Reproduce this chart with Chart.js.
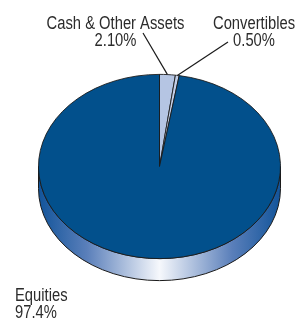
<!DOCTYPE html>
<html>
<head>
<meta charset="utf-8">
<script src="https://cdn.jsdelivr.net/npm/chart.js@4.4.0/dist/chart.umd.min.js"></script>
<style>
html, body { margin: 0; padding: 0; background: #fff; }
#wrap { width: 297px; height: 319px; position: relative; }
</style>
</head>
<body>
<div id="wrap"><canvas id="pie"></canvas></div>
<script>
// slice data, clockwise from 12 o'clock
const labels = ['Cash & Other Assets', 'Convertibles', 'Equities'];
const values = [2.10, 0.50, 97.4];
const valueLabels = ['2.10%', '0.50%', '97.4%'];
const sliceColors = ['#b5c5e3', '#c3cfe8', '#02508c'];

// tilt of the pie
const FLAT = 92.5 / 121.5;
const DEPTH = 22;
const TOP_Y = 166.5;
const FONT = '18px "Liberation Sans", Arial, sans-serif';
const NARROW = 0.82; // no condensed face installed, squeeze text horizontally

// label placement: text lines anchor + leader line start
const labelLayout = [
    { x: 115.5, y: 29, align: 'center', lineFrom: [143, 33] },
    { x: 254, y: 29, align: 'center', lineFrom: [228, 42] },
    { x: 15, y: 301, align: 'left', lineFrom: null }
];

function pieGeom(chart) {
    const arc = chart.getDatasetMeta(0).data[0];
    return { cx: arc.x, cy: arc.y, r: arc.outerRadius };
}

function narrowText(ctx, text, x, y) {
    ctx.save();
    ctx.translate(x, y);
    ctx.scale(NARROW, 1);
    ctx.fillText(text, 0, 0);
    ctx.restore();
}

const tiltPlugin = {
    id: 'tilt',
    beforeDatasetsDraw(chart) {
        const ctx = chart.ctx;
        const { cx, cy, r } = pieGeom(chart);
        const ry = r * FLAT;

        // side of the disc
        const g = ctx.createLinearGradient(cx - r, 0, cx + r, 0);
        g.addColorStop(0, '#12549a');
        g.addColorStop(0.2, '#5a7fba');
        g.addColorStop(0.5, '#f6f8fc');
        g.addColorStop(0.8, '#5a7fba');
        g.addColorStop(1, '#12549a');
        ctx.save();
        ctx.beginPath();
        ctx.ellipse(cx, TOP_Y, r, ry, 0, 0, Math.PI, false);
        ctx.lineTo(cx - r, TOP_Y + DEPTH);
        ctx.ellipse(cx, TOP_Y + DEPTH, r, ry, 0, Math.PI, 0, true);
        ctx.closePath();
        ctx.fillStyle = g;
        ctx.fill();
        ctx.strokeStyle = '#1a1a1a';
        ctx.lineWidth = 1;
        ctx.stroke();
        ctx.restore();

        // squash the top face
        ctx.save();
        ctx.translate(cx, TOP_Y);
        ctx.scale(1, FLAT);
        ctx.translate(-cx, -cy);
    },
    afterDatasetsDraw(chart) {
        chart.ctx.restore();
    },
    afterDraw(chart) {
        const ctx = chart.ctx;
        const { cx, r } = pieGeom(chart);
        const ry = r * FLAT;
        const arcs = chart.getDatasetMeta(0).data;
        ctx.save();
        ctx.font = FONT;
        ctx.fillStyle = '#2b2b2b';
        ctx.strokeStyle = '#1a1a1a';
        ctx.lineWidth = 1.2;
        labelLayout.forEach((lay, i) => {
            ctx.textAlign = lay.align;
            narrowText(ctx, labels[i], lay.x, lay.y);
            narrowText(ctx, valueLabels[i], lay.x, lay.y + 17);
            if (lay.lineFrom) {
                const mid = (arcs[i].startAngle + arcs[i].endAngle) / 2;
                const ex = cx + r * Math.cos(mid);
                const ey = TOP_Y + ry * Math.sin(mid);
                ctx.beginPath();
                ctx.moveTo(lay.lineFrom[0], lay.lineFrom[1]);
                ctx.lineTo(ex, ey);
                ctx.stroke();
            }
        });
        ctx.restore();
    }
};

new Chart(document.getElementById('pie'), {
    type: 'pie',
    data: {
        labels: labels,
        datasets: [{
            data: values,
            backgroundColor: sliceColors,
            borderColor: '#1a1a1a',
            borderWidth: 1
        }]
    },
    options: {
        responsive: true,
        maintainAspectRatio: false,
        animation: false,
        layout: { padding: { left: 38, right: 16, top: 38, bottom: 38 } },
        plugins: {
            legend: { display: false },
            tooltip: { enabled: false }
        }
    },
    plugins: [tiltPlugin]
});
</script>
</body>
</html>
